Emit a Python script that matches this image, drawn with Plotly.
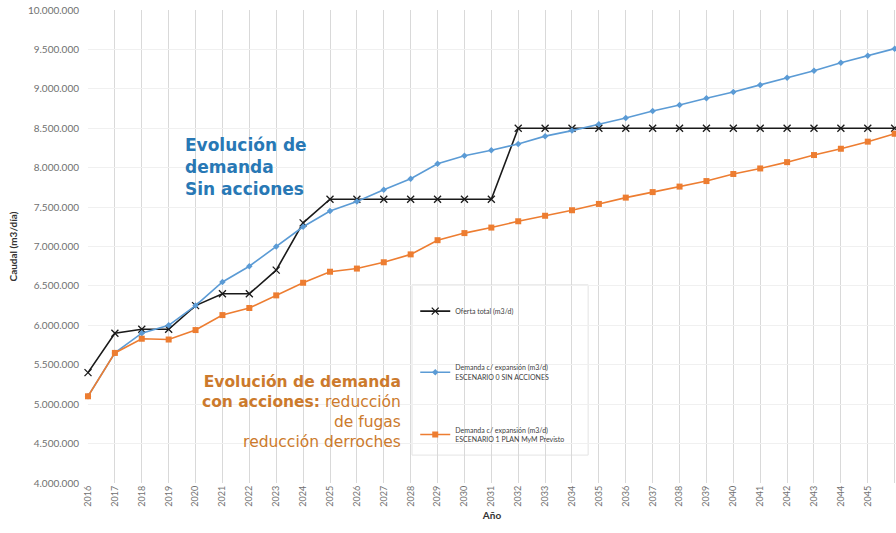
import plotly.graph_objects as go

years = list(range(2016, 2047))

oferta_total = [5400000, 5900000, 5950000, 5950000, 6250000, 6400000, 6400000, 6700000,
                7300000, 7600000, 7600000, 7600000, 7600000, 7600000, 7600000, 7600000,
                8500000, 8500000, 8500000, 8500000, 8500000, 8500000, 8500000, 8500000,
                8500000, 8500000, 8500000, 8500000, 8500000, 8500000, 8500000]

demanda_sin_acciones = [5100000, 5650000, 5900000, 6000000, 6250000, 6550000, 6750000, 7000000,
                        7250000, 7450000, 7570000, 7720000, 7860000, 8050000, 8150000, 8220000,
                        8300000, 8400000, 8470000, 8550000, 8630000, 8720000, 8795000, 8880000,
                        8960000, 9050000, 9140000, 9230000, 9330000, 9420000, 9510000]

demanda_plan = [5100000, 5650000, 5830000, 5820000, 5940000, 6130000, 6220000, 6380000,
                6540000, 6680000, 6720000, 6800000, 6900000, 7080000, 7170000, 7240000,
                7320000, 7390000, 7460000, 7540000, 7620000, 7690000, 7760000, 7830000,
                7920000, 7990000, 8070000, 8160000, 8240000, 8330000, 8430000]

fig = go.Figure()

fig.add_trace(go.Scatter(
    x=years, y=oferta_total, name="Oferta total (m3/d)",
    mode="lines+markers", cliponaxis=False,
    line=dict(color="#1a1a1a", width=1.6),
    marker=dict(symbol="x-thin", size=7, line=dict(color="#1a1a1a", width=1.3)),
    legendgroup="a"
))
fig.add_trace(go.Scatter(
    x=years, y=demanda_sin_acciones,
    name="Demanda c/ expansión (m3/d)<br>ESCENARIO 0 SIN ACCIONES",
    mode="lines+markers", cliponaxis=False,
    line=dict(color="#5B9BD5", width=1.6),
    marker=dict(symbol="diamond", size=5, color="#5B9BD5"),
    legendgroup="b"
))
fig.add_trace(go.Scatter(
    x=years, y=demanda_plan,
    name="Demanda c/ expansión (m3/d)<br>ESCENARIO 1 PLAN MyM Previsto",
    mode="lines+markers", cliponaxis=False,
    line=dict(color="#ED7D31", width=1.6),
    marker=dict(symbol="square", size=6, color="#ED7D31"),
    legendgroup="c"
))

# white legend panel
fig.add_shape(type="rect", xref="paper", yref="paper",
              x0=0.401, x1=0.619, y0=0.059, y1=0.419,
              fillcolor="white", line=dict(color="#e4e4e4", width=1), layer="between")

fig.add_annotation(
    x=2019.53, y=8440000, xanchor="left", yanchor="top", align="left", showarrow=False,
    text="<b>Evolución de<br>demanda<br>Sin acciones</b>",
    font=dict(family="DejaVu Sans", size=17, color="#2878B5")
)
fig.add_annotation(
    x=2027.7, y=5420000, xanchor="right", yanchor="top", align="right", showarrow=False,
    text="<b>Evolución de demanda</b><br><b>con acciones:</b> reducción<br>de fugas<br>reducción derroches",
    font=dict(family="DejaVu Sans", size=15.5, color="#CC7A2C")
)

fig.update_layout(
    width=896, height=533,
    margin=dict(l=88, r=0, t=10, b=50),
    paper_bgcolor="white", plot_bgcolor="white",
    separators=",.",
    font=dict(family="Lato, sans-serif", color="#595959"),
    showlegend=True,
    legend=dict(x=0.405, y=0.394, xanchor="left", yanchor="top",
                bgcolor="rgba(0,0,0,0)", font=dict(size=7, color="#404040"),
                tracegroupgap=41, itemwidth=30),
    xaxis=dict(
        range=[2016, 2046.05], tickmode="linear", dtick=1, tick0=2016,
        tickangle=-90, tickfont=dict(size=9, color="#707070"),
        showgrid=True, gridcolor="#d9d9d9", gridwidth=1,
        zeroline=False, showline=False, ticks="", automargin=False,
        title=dict(text="<b>Año</b>", font=dict(size=10, color="#333333"), standoff=6)
    ),
    yaxis=dict(
        range=[4000000, 10000000], dtick=500000, tickformat=",d",
        tickfont=dict(size=10, color="#707070"),
        showgrid=True, gridcolor="#f0f0f0", gridwidth=1,
        zeroline=False, showline=False, ticks="", ticklabelstandoff=8, automargin=False,
        title=dict(text="<b>Caudal (m3/día)</b>", font=dict(size=10, color="#333333"), standoff=8)
    )
)

# drop the default 8px page margin so the figure fills the window
fig.write_html("out.html", config={"displayModeBar": False},
               post_script="document.body.style.margin='0px';")
